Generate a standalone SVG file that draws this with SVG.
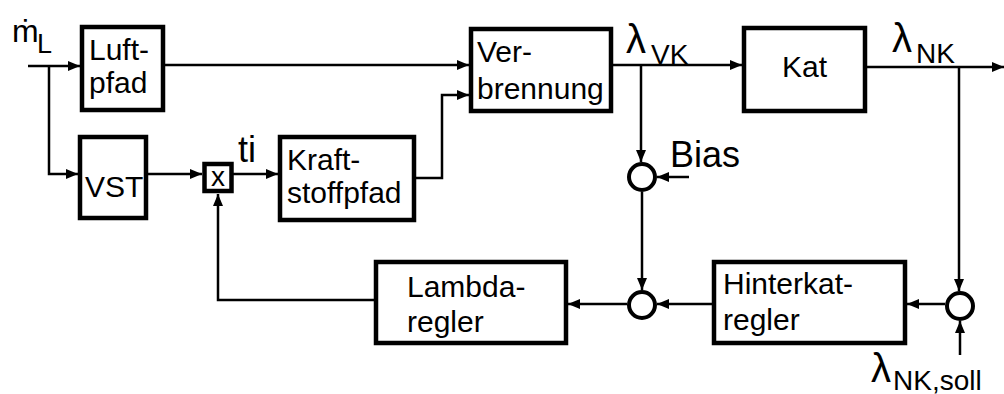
<svg xmlns="http://www.w3.org/2000/svg" width="1004" height="394" viewBox="0 0 1004 394">
<defs>
<marker id="arr" markerUnits="userSpaceOnUse" markerWidth="12" markerHeight="10" refX="12" refY="5" orient="auto">
<path d="M0,0 L12,5 L0,10 z" fill="#000"/>
</marker>
<style>
.box{fill:#fff;stroke:#000;stroke-width:4.5}
.sum{fill:#fff;stroke:#000;stroke-width:4}
.c{fill:none;stroke:#000;stroke-width:2.5;marker-end:url(#arr)}
.t{font-family:"Liberation Sans",Arial,"DejaVu Sans",sans-serif;font-size:30px;fill:#000}
.sub{font-size:28px}
.lam{font-size:40px}
.big{font-size:36px}
</style>
</defs>
<rect width="1004" height="394" fill="#fff"/>
<g id="connectors">
<path class="c" d="M28,66 H80"/>
<path class="c" d="M49,66 V174 H78"/>
<path class="c" d="M165,65 H469"/>
<path class="c" d="M148,174 H202"/>
<path class="c" d="M233,174 H278"/>
<path class="c" d="M416,178 H442 V95 H469"/>
<path class="c" d="M613,65 H742"/>
<path class="c" d="M641,65 V162"/>
<path class="c" d="M689,177 H657"/>
<path class="c" d="M642,192 V290"/>
<path class="c" d="M867,67 H1004"/>
<path class="c" d="M959,67 V291"/>
<path class="c" d="M960,355 V321"/>
<path class="c" d="M945,304 H907"/>
<path class="c" d="M712,304 H657"/>
<path class="c" d="M627,304 H568"/>
<path class="c" d="M374,300 H218 V194"/>
</g>
<g id="input-label">
<text class="t" x="12" y="42" style="font-size:32px">ṁ</text>
<text class="t" x="37" y="53" style="font-size:27px">L</text>
</g>
<g id="luftpfad">
<rect class="box" x="82" y="27" width="81" height="83"/>
<text class="t" x="89" y="60">Luft-</text>
<text class="t" x="89" y="93">pfad</text>
</g>
<g id="vst">
<rect class="box" x="80" y="137" width="66" height="81"/>
<text class="t" x="85" y="197">VST</text>
</g>
<g id="mult">
<rect class="box" x="204.5" y="164" width="27" height="27"/>
<text class="t" x="218" y="186" style="font-size:28px" text-anchor="middle">x</text>
</g>
<g id="ti-label">
<text class="t big" x="238" y="162">ti</text>
</g>
<g id="kraftstoffpfad">
<rect class="box" x="280" y="137" width="134" height="83"/>
<text class="t" x="287" y="170">Kraft-</text>
<text class="t" x="287" y="203">stoffpfad</text>
</g>
<g id="verbrennung">
<rect class="box" x="471" y="29" width="140" height="82"/>
<text class="t" x="477" y="62">Ver-</text>
<text class="t" x="477" y="99">brennung</text>
</g>
<g id="lambda-vk">
<text class="t lam" x="626" y="53">λ</text>
<text class="t sub" x="651" y="64">VK</text>
</g>
<g id="kat">
<rect class="box" x="744" y="28" width="121" height="83"/>
<text class="t" x="782" y="77">Kat</text>
</g>
<g id="lambda-nk">
<text class="t lam" x="892" y="52">λ</text>
<text class="t sub" x="916" y="63">NK</text>
</g>
<g id="sum-bias">
<circle class="sum" cx="642" cy="177" r="13"/>
<text class="t big" x="670" y="167">Bias</text>
</g>
<g id="sum-mid">
<circle class="sum" cx="642" cy="305" r="13"/>
</g>
<g id="sum-right">
<circle class="sum" cx="960" cy="306" r="13"/>
</g>
<g id="lambdaregler">
<rect class="box" x="376" y="262" width="190" height="81"/>
<text class="t" x="407" y="297">Lambda-</text>
<text class="t" x="407" y="332">regler</text>
</g>
<g id="hinterkatregler">
<rect class="box" x="714" y="262" width="191" height="81"/>
<text class="t" x="723" y="294">Hinterkat-</text>
<text class="t" x="723" y="330">regler</text>
</g>
<g id="lambda-soll">
<text class="t lam" x="871" y="382">λ</text>
<text class="t sub" x="893" y="390">NK,soll</text>
</g>
</svg>
